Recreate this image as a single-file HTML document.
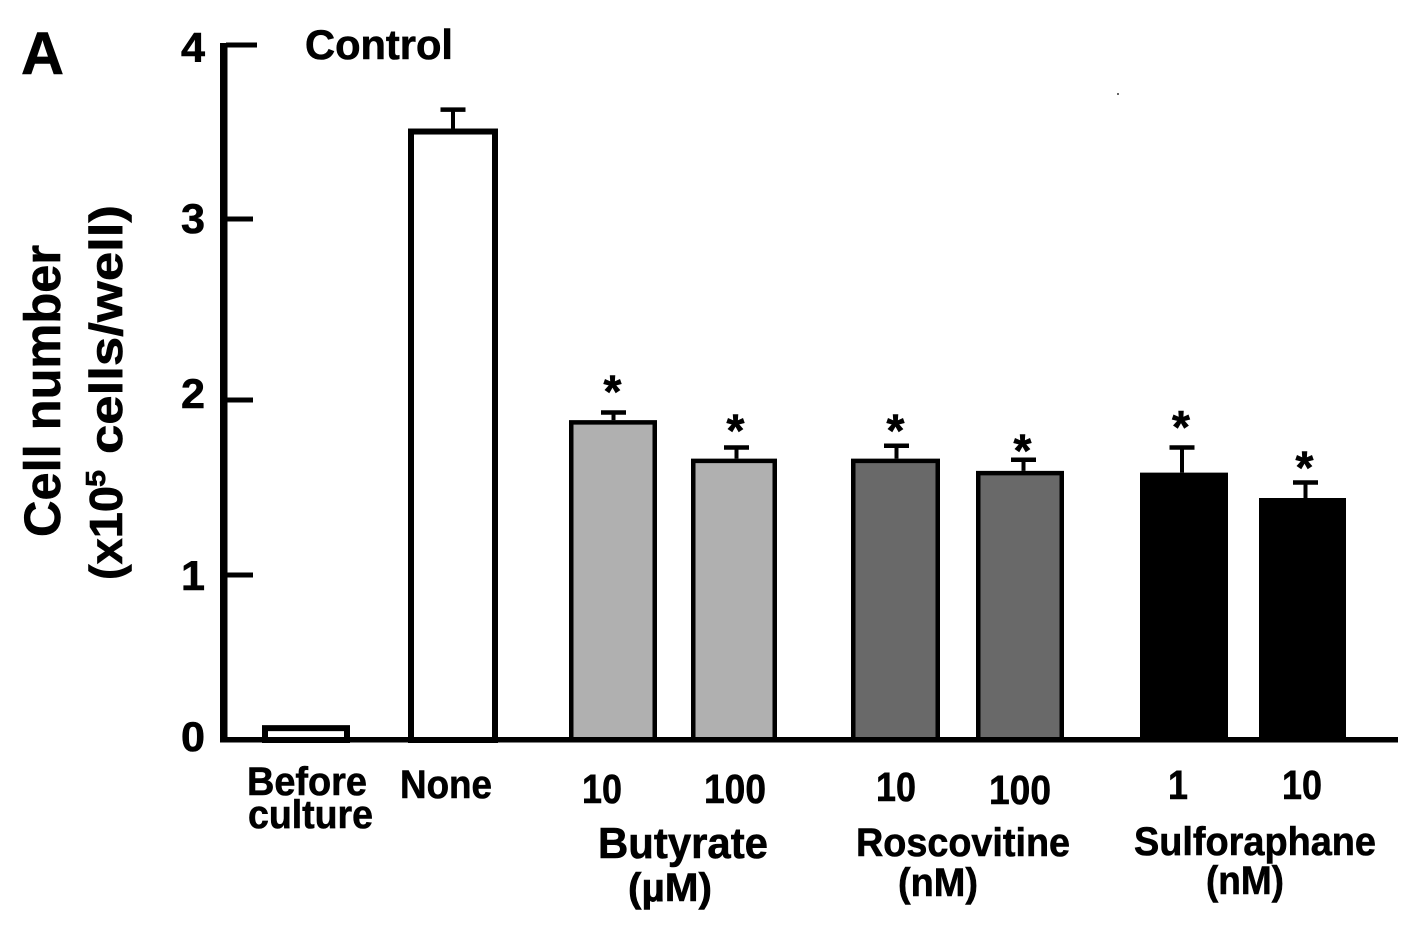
<!DOCTYPE html>
<html lang="en">
<head>
<meta charset="utf-8">
<title>Cell number bar chart</title>
<style>
  html, body { margin: 0; padding: 0; background: #fff; }
  svg { display: block; }
  text { font-family: "Liberation Sans", Arial, sans-serif; font-weight: 700; fill: #000; stroke: #000; stroke-width: 0.6px; }
</style>
</head>
<body>
<svg id="chart" xmlns="http://www.w3.org/2000/svg" width="1417" height="925" viewBox="0 0 1417 925">
  <rect width="1417" height="925" fill="#fff"/>
  <rect x="1117" y="93" width="2" height="2" fill="#666"/>

  <text x="21" y="74" font-size="60" textLength="43" lengthAdjust="spacingAndGlyphs">A</text>
  <text x="305" y="59" font-size="42" textLength="148" lengthAdjust="spacingAndGlyphs">Control</text>

  <g>
    <text transform="translate(60,537) rotate(-90)" font-size="51" textLength="292" lengthAdjust="spacingAndGlyphs">Cell number</text>
    <text transform="translate(122,580) rotate(-90)" font-size="46" textLength="94" lengthAdjust="spacingAndGlyphs">(x10</text>
    <text transform="translate(105,487) rotate(-90)" font-size="28" textLength="17" lengthAdjust="spacingAndGlyphs">5</text>
    <text transform="translate(122,454) rotate(-90)" font-size="46" textLength="249" lengthAdjust="spacingAndGlyphs">cells/well)</text>
  </g>

  <g id="bars"></g>
  <g id="axes"></g>

  <g>
    <text x="247" y="795" font-size="40" textLength="120" lengthAdjust="spacingAndGlyphs">Before</text>
    <text x="248" y="828" font-size="40" textLength="125" lengthAdjust="spacingAndGlyphs">culture</text>
    <text x="400" y="798" font-size="40" textLength="92" lengthAdjust="spacingAndGlyphs">None</text>
    <text x="582" y="803" font-size="41" textLength="40" lengthAdjust="spacingAndGlyphs">10</text>
    <text x="704" y="803" font-size="41" textLength="62" lengthAdjust="spacingAndGlyphs">100</text>
    <text x="876" y="801" font-size="41" textLength="40" lengthAdjust="spacingAndGlyphs">10</text>
    <text x="989" y="804" font-size="41" textLength="62" lengthAdjust="spacingAndGlyphs">100</text>
    <text x="1168" y="799" font-size="41" textLength="20" lengthAdjust="spacingAndGlyphs">1</text>
    <text x="1282" y="799" font-size="41" textLength="40" lengthAdjust="spacingAndGlyphs">10</text>
    <text x="598" y="858" font-size="44" textLength="170" lengthAdjust="spacingAndGlyphs">Butyrate</text>
    <text x="628" y="901" font-size="40" textLength="84" lengthAdjust="spacingAndGlyphs">(µM)</text>
    <text x="856" y="856" font-size="40" textLength="214" lengthAdjust="spacingAndGlyphs">Roscovitine</text>
    <text x="898" y="896" font-size="40" textLength="80" lengthAdjust="spacingAndGlyphs">(nM)</text>
    <text x="1134" y="855" font-size="40" textLength="242" lengthAdjust="spacingAndGlyphs">Sulforaphane</text>
    <text x="1206" y="894" font-size="40" textLength="78" lengthAdjust="spacingAndGlyphs">(nM)</text>
  </g>
</svg>

<script>
const categories = ['before-culture', 'none', 'butyrate-10', 'butyrate-100', 'roscovitine-10', 'roscovitine-100', 'sulforaphane-1', 'sulforaphane-10'];
const cellCounts = [0.09, 3.52, 1.885, 1.665, 1.665, 1.595, 1.585, 1.44];
const errorTops = [null, 3.63, 1.93, 1.73, 1.74, 1.66, 1.73, 1.53];
const starGaps = [null, null, 0.15, 0.13, 0.12, 0.085, 0.15, 0.12];
const barColors = ['#ffffff', '#ffffff', '#b0b0b0', '#b0b0b0', '#696969', '#696969', '#000000', '#000000'];
const tickValues = [0, 1, 2, 3, 4];
const tickLabels = ['0', '1', '2', '3', '4'];

const NS = 'http://www.w3.org/2000/svg';
const barsGroup = document.getElementById('bars');
const axesGroup = document.getElementById('axes');

// The printed axis is slightly uneven, so the scale is piecewise between its ticks.
function yScale(v) {
  const stops = [740, 575, 400, 219, 45];
  const i = Math.max(0, Math.min(3, Math.floor(v)));
  return stops[i] + (v - i) * (stops[i + 1] - stops[i]);
}

// Bars are hand-spaced in uneven groups in the original figure.
function xScale(i) {
  return [306, 453, 613, 734, 895.5, 1020, 1184, 1302.5][i];
}

function barWidth(i) {
  return [88, 90, 88, 86, 89, 88, 88, 87][i];
}

// Error bars and stars sit slightly off-centre on some bars in the original.
function errorX(i) {
  return xScale(i) + [0, 0, 0.5, 2.5, 1, 3.5, -2, 3][i];
}

function make(tag, parent, attrs) {
  const el = document.createElementNS(NS, tag);
  Object.keys(attrs).forEach(function (k) { el.setAttribute(k, attrs[k]); });
  parent.appendChild(el);
  return el;
}

categories.forEach(function (cat, i) {
  const cx = xScale(i);
  const w = barWidth(i);
  const top = yScale(cellCounts[i]);
  const sw = i < 2 ? 6 : 4.5;
  const inset = sw / 2;

  if (errorTops[i] !== null) {
    const errY = yScale(errorTops[i]);
    const ex = errorX(i);
    const stem = make('rect', barsGroup, { x: ex - 2, y: errY, width: 4, height: top - errY, fill: '#000' });
    
    
    const cap = make('rect', barsGroup, { x: ex - 12.5, y: errY - 2, width: 25, height: 4.5, fill: '#000' });
    
    
  }

  const bar = make('rect', barsGroup, {
    x: cx - w / 2 + inset, y: top + inset, width: w - sw, height: 740 - top - inset,
    fill: barColors[i], stroke: '#000', 'stroke-width': sw
  });
  
  

  if (starGaps[i] !== null) {
    const star = make('text', barsGroup, { x: errorX(i) - 1, y: yScale(errorTops[i] + starGaps[i]) + 22, 'font-size': 46, 'text-anchor': 'middle' });
    star.textContent = '*';
    
    
  }
});

const yLine = make('rect', axesGroup, { x: 220, y: 43, width: 7.5, height: 699, fill: '#000' });



const xLine = make('rect', axesGroup, { x: 220, y: 737, width: 1178, height: 5.5, fill: '#000' });



tickValues.forEach(function (v, i) {
  const y = yScale(v);
  if (v > 0) {
    const tick = make('rect', axesGroup, { x: 226, y: y - 2.5, width: v === 4 ? 31 : 27, height: 5, fill: '#000' });
    
    
  }
  const label = make('text', axesGroup, { x: 181, y: y + [11, 15, 8, 14, 17][i], 'font-size': 42, textLength: 24, lengthAdjust: 'spacingAndGlyphs' });
  label.textContent = tickLabels[i];
  
  
});
</script>
</body>
</html>
